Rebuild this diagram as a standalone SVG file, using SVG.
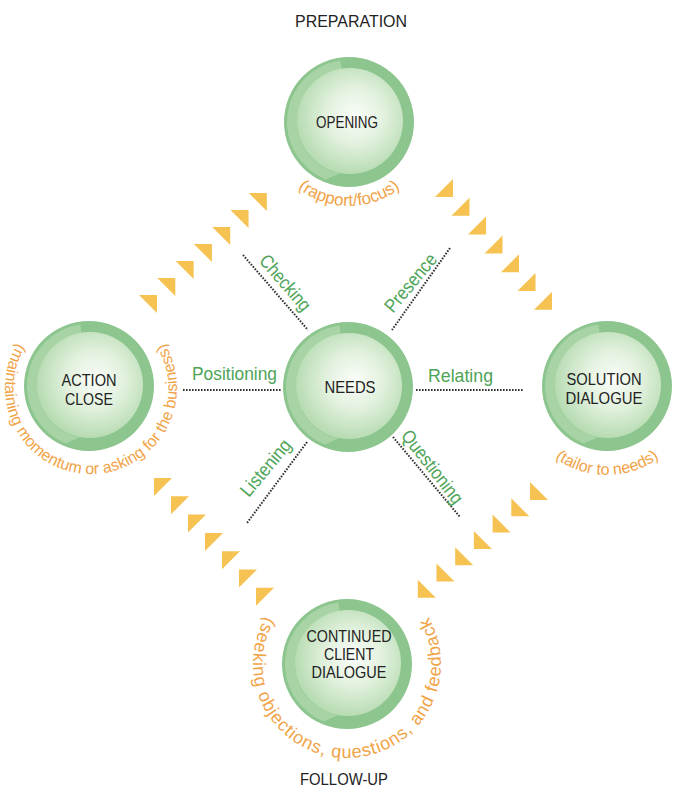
<svg xmlns="http://www.w3.org/2000/svg" xmlns:xlink="http://www.w3.org/1999/xlink" width="693" height="800" viewBox="0 0 693 800">
<defs>
<radialGradient id="disk" cx="0.55" cy="0.45" r="0.6">
<stop offset="0" stop-color="#FBFDF9"/>
<stop offset="0.45" stop-color="#E2F1DE"/>
<stop offset="1" stop-color="#B0D8AB"/>
</radialGradient>
<g id="bubble">
<circle r="65" fill="#8DC58E"/>
<path d="M-8.6,-61.4 A62,62 0 0 0 -23.2,57.5 L-9,51.2 A52,52 0 0 1 -7.2,-51.5 Z" fill="#A8D4A5"/>
<circle cx="1" cy="-1" r="53" fill="url(#disk)"/>
</g>
<path id="tA" d="M0 0H18V18Z"/>
<path id="tB" d="M18 0V18H0Z"/>
<path id="tC" d="M0 0H18L0 18Z"/>
<path id="tD" d="M0 0V18H18Z"/>
<path id="arcOpen" d="M349,42 A82,82 0 0 0 349,206 A82,82 0 0 0 349,42"/>
<path id="arcSol" d="M607,299 A88,88 0 0 0 607,475 A88,88 0 0 0 607,299"/>
<path id="arcAct" d="M91,302 A86,86 0 0 0 91,474 A86,86 0 0 0 91,302"/>
<path id="arcCon" d="M347,570 A94,94 0 0 0 347,758 A94,94 0 0 0 347,570"/>
</defs>
<style>
.lbl{font-family:"Liberation Sans",Arial,sans-serif;font-size:17px;fill:#222;text-anchor:middle}
.hd{font-family:"Liberation Sans",Arial,sans-serif;font-size:17px;fill:#222;text-anchor:middle}
.grn{font-family:"Liberation Sans",Arial,sans-serif;font-size:19px;fill:#4EA458;text-anchor:middle}
.org{font-family:"Liberation Sans",Arial,sans-serif;font-size:16px;fill:#F1A347;text-anchor:middle}
.dot{stroke:#333;stroke-width:2;stroke-dasharray:1.6 1.4;fill:none}
.tri{fill:#F6C251}
</style>
<rect width="693" height="800" fill="#fff"/>

<text class="hd" x="351" y="27" textLength="112" lengthAdjust="spacingAndGlyphs">PREPARATION</text>
<text class="hd" x="344" y="785" textLength="88" lengthAdjust="spacingAndGlyphs">FOLLOW-UP</text>

<g id="arrows" class="tri">
<use href="#tA" x="139" y="295"/><use href="#tA" x="157.3" y="278"/><use href="#tA" x="175.6" y="261"/><use href="#tA" x="193.9" y="244"/><use href="#tA" x="212.2" y="227"/><use href="#tA" x="230.5" y="210"/><use href="#tA" x="248.8" y="193"/>
<use href="#tB" x="435" y="179"/><use href="#tB" x="451.5" y="197.8"/><use href="#tB" x="468" y="216.6"/><use href="#tB" x="484.5" y="235.4"/><use href="#tB" x="501" y="254.2"/><use href="#tB" x="517.5" y="273"/><use href="#tB" x="534" y="291.8"/>
<use href="#tC" x="154" y="478"/><use href="#tC" x="171" y="496.3"/><use href="#tC" x="188" y="514.6"/><use href="#tC" x="205" y="532.9"/><use href="#tC" x="222" y="551.2"/><use href="#tC" x="239" y="569.5"/><use href="#tC" x="256" y="587.8"/>
<use href="#tD" x="530" y="482"/><use href="#tD" x="511.3" y="498.3"/><use href="#tD" x="492.6" y="514.6"/><use href="#tD" x="473.9" y="530.9"/><use href="#tD" x="455.2" y="547.2"/><use href="#tD" x="436.5" y="563.5"/><use href="#tD" x="417.8" y="579.8"/>
</g>

<g id="connectors">
<line class="dot" x1="183" y1="390" x2="281" y2="390"/>
<line class="dot" x1="416" y1="390" x2="523" y2="390"/>
<line class="dot" x1="243" y1="255" x2="308" y2="330"/>
<line class="dot" x1="450" y1="248" x2="392" y2="330"/>
<line class="dot" x1="307" y1="442" x2="247" y2="523"/>
<line class="dot" x1="393" y1="437" x2="460" y2="517"/>
<text class="grn" x="234.5" y="380" textLength="85" lengthAdjust="spacingAndGlyphs">Positioning</text>
<text class="grn" x="460.5" y="382" textLength="65" lengthAdjust="spacingAndGlyphs">Relating</text>
<text class="grn" transform="translate(285,283) rotate(49)" y="6" textLength="68" lengthAdjust="spacingAndGlyphs">Checking</text>
<text class="grn" transform="translate(411,283) rotate(-50)" y="6" textLength="70" lengthAdjust="spacingAndGlyphs">Presence</text>
<text class="grn" transform="translate(266,468) rotate(-50)" y="6" textLength="68" lengthAdjust="spacingAndGlyphs">Listening</text>
<text class="grn" transform="translate(432,467) rotate(52)" y="6" textLength="88" lengthAdjust="spacingAndGlyphs">Questioning</text>
</g>

<g id="opening">
<use href="#bubble" x="349" y="122"/>
<text class="lbl" x="347" y="128" textLength="62" lengthAdjust="spacingAndGlyphs">OPENING</text>
<text class="org" style="font-size:17px"><textPath href="#arcOpen" startOffset="50%">(rapport/focus)</textPath></text>
</g>

<g id="action">
<use href="#bubble" x="89" y="386"/>
<text class="lbl" x="89" y="386" textLength="55" lengthAdjust="spacingAndGlyphs">ACTION</text>
<text class="lbl" x="89" y="405" textLength="48" lengthAdjust="spacingAndGlyphs">CLOSE</text>
<text class="org"><textPath href="#arcAct" startOffset="50%">(maintaining momentum or asking for the business)</textPath></text>
</g>

<g id="needs">
<use href="#bubble" x="348" y="387"/>
<text class="lbl" x="350" y="393" textLength="51" lengthAdjust="spacingAndGlyphs">NEEDS</text>
</g>

<g id="solution">
<use href="#bubble" x="607" y="386"/>
<text class="lbl" x="604" y="385" textLength="75" lengthAdjust="spacingAndGlyphs">SOLUTION</text>
<text class="lbl" x="604" y="404" textLength="77" lengthAdjust="spacingAndGlyphs">DIALOGUE</text>
<text class="org"><textPath href="#arcSol" startOffset="50%">(tailor to needs)</textPath></text>
</g>

<g id="continued">
<use href="#bubble" x="347" y="664"/>
<text class="lbl" x="349" y="642" textLength="85" lengthAdjust="spacingAndGlyphs">CONTINUED</text>
<text class="lbl" x="349" y="660" textLength="50" lengthAdjust="spacingAndGlyphs">CLIENT</text>
<text class="lbl" x="349" y="678" textLength="75" lengthAdjust="spacingAndGlyphs">DIALOGUE</text>
<text class="org" style="font-size:18px;letter-spacing:0.8px"><textPath href="#arcCon" startOffset="50%">(seeking objections, questions, and feedback</textPath></text>
</g>
</svg>
